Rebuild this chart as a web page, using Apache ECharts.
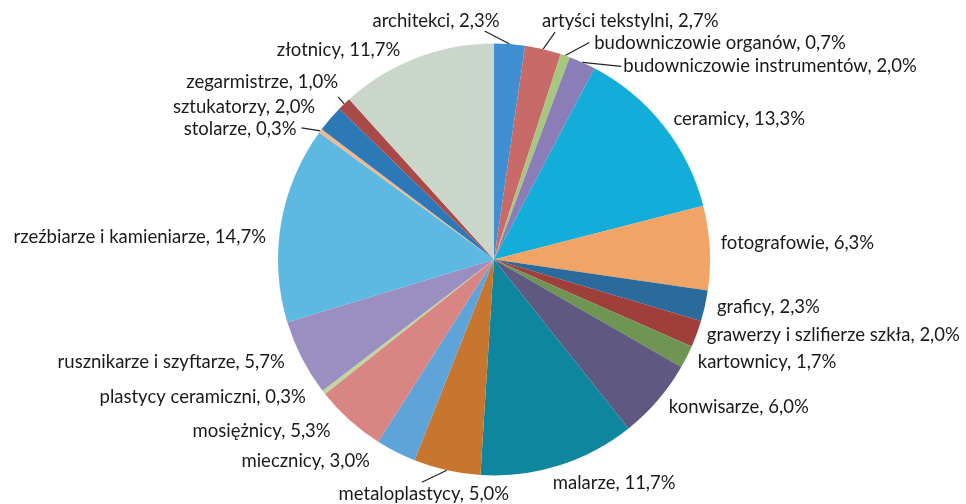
<!DOCTYPE html>
<html><head><meta charset="utf-8">
<script src="https://cdn.jsdelivr.net/npm/echarts/dist/echarts.min.js"></script>
<style>html,body{margin:0;padding:0;background:#fff}#c{width:966px;height:504px}</style>
</head><body><div id="c"></div>
<script>
const categories = ['architekci','artyści tekstylni','budowniczowie organów','budowniczowie instrumentów','ceramicy','fotografowie','graficy','grawerzy i szlifierze szkła','kartownicy','konwisarze','malarze','metaloplastycy','miecznicy','mosiężnicy','plastycy ceramiczni','rusznikarze i szyftarze','rzeźbiarze i kamieniarze','stolarze','sztukatorzy','zegarmistrze','złotnicy'];
const values = [2.3, 2.7, 0.7, 2.0, 13.3, 6.3, 2.3, 2.0, 1.7, 6.0, 11.7, 5.0, 3.0, 5.3, 0.3, 5.7, 14.7, 0.3, 2.0, 1.0, 11.7];
const colors = ['#3F8FD2','#C86A68','#A6C77E','#8A7DB8','#13ADD9','#F2A466','#2B6B9B','#9F3F3C','#6E9652','#5F5880','#0E879E','#C7762F','#5FA4D9','#D88584','#BDD79D','#9B8FC1','#5DB9E1','#F3B98C','#2D78B7','#A84A48','#CAD6C9'];
// label placement relative to the slice's outer-edge midpoint: [dx, dy, align]
const labelOffsets = [[-10,-23,'right'],[-1,-28,'left'],[29,-13,'left'],[41,4,'left'],[10,-6,'left'],[11,-5,'left'],[12,1,'left'],[10,1,'left'],[11,5,'left'],[11,7,'left'],[-6,17,'left'],[-23,24,'center'],[-26,9,'right'],[-19,11,'right'],[-18,5,'right'],[-17,4,'right'],[-15,13,'right'],[-24,-2,'right'],[-15,-12,'right'],[-6,-22,'right'],[-16,-8,'right']];
// leader line end relative to the edge midpoint, for slices that have one
const leaderEnds = {0:[-25,-13],1:[12,-17],2:[24,-13],3:[39,4],11:[-25,12],17:[-19,-3],19:[-6,-7]};

const CX = 494, CY = 259.5, R = 216;
const total = values.reduce((a,b)=>a+b,0);
const mids = [];
let acc = 0;
values.forEach(v => { mids.push((acc + v/2) / total * 2 * Math.PI); acc += v; });

const fmt = v => v.toFixed(1).replace('.', ',');
const chart = echarts.init(document.getElementById('c'), null, {renderer:'canvas'});
chart.setOption({
  backgroundColor: '#fff',
  animation: false,
  series: [{
    type: 'pie',
    center: [CX, CY],
    radius: R,
    startAngle: 90,
    clockwise: true,
    avoidLabelOverlap: false,
    data: categories.map((n, i) => ({
      name: n, value: values[i],
      itemStyle: {color: colors[i]},
      labelLine: {show: leaderEnds[i] !== undefined}
    })),
    label: {
      show: true, position: 'outside',
      formatter: p => p.name + ', ' + fmt(values[p.dataIndex]) + '%',
      fontFamily: 'Lato', fontSize: 18.5, color: '#1a1a1a'
    },
    labelLine: {length: 8, length2: 0, lineStyle: {color: '#222', width: 1.2}},
    labelLayout: function (params) {
      const i = params.dataIndex;
      const a = mids[i];
      const ax = CX + R * Math.sin(a), ay = CY - R * Math.cos(a);
      const o = labelOffsets[i];
      const res = {x: ax + o[0], y: ay + o[1], align: o[2], verticalAlign: 'middle'};
      if (leaderEnds[i]) {
        const e = leaderEnds[i];
        res.labelLinePoints = [[ax, ay], [ax + e[0], ay + e[1]], [ax + e[0], ay + e[1]]];
      }
      return res;
    }
  }]
});
</script></body></html>
